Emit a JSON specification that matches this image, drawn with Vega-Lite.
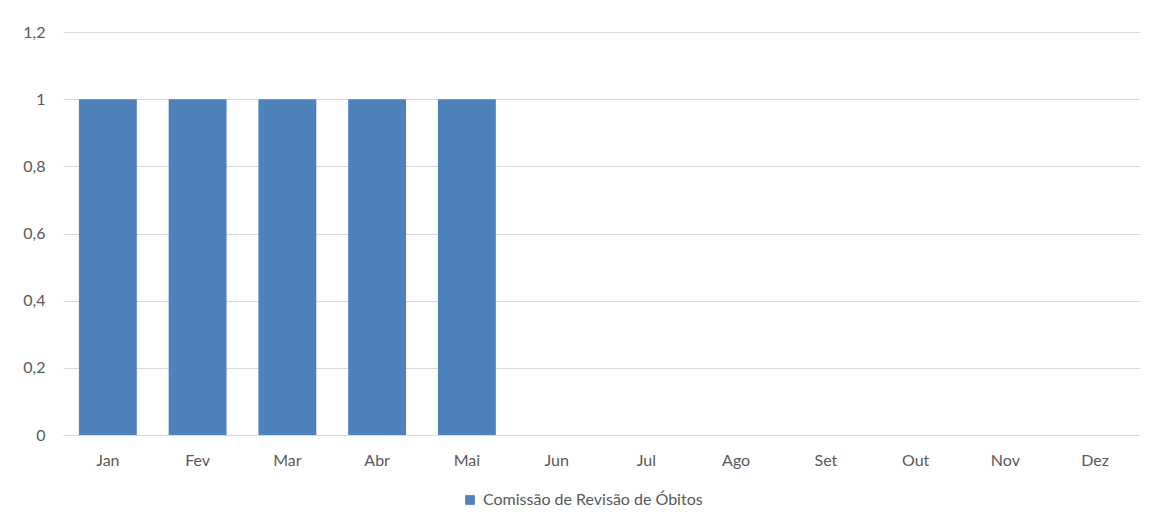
{
  "$schema": "https://vega.github.io/schema/vega-lite/v6.json",
  "width": 1077,
  "height": 403,
  "autosize": {"type": "none"},
  "padding": {"left": 63, "top": 32, "right": 21, "bottom": 91},
  "background": "white",
  "data": {
    "values": [
      {"mes": "Jan", "valor": 1, "serie": "Comissão de Revisão de Óbitos"},
      {"mes": "Fev", "valor": 1, "serie": "Comissão de Revisão de Óbitos"},
      {"mes": "Mar", "valor": 1, "serie": "Comissão de Revisão de Óbitos"},
      {"mes": "Abr", "valor": 1, "serie": "Comissão de Revisão de Óbitos"},
      {"mes": "Mai", "valor": 1, "serie": "Comissão de Revisão de Óbitos"},
      {"mes": "Jun", "valor": 0, "serie": "Comissão de Revisão de Óbitos"},
      {"mes": "Jul", "valor": 0, "serie": "Comissão de Revisão de Óbitos"},
      {"mes": "Ago", "valor": 0, "serie": "Comissão de Revisão de Óbitos"},
      {"mes": "Set", "valor": 0, "serie": "Comissão de Revisão de Óbitos"},
      {"mes": "Out", "valor": 0, "serie": "Comissão de Revisão de Óbitos"},
      {"mes": "Nov", "valor": 0, "serie": "Comissão de Revisão de Óbitos"},
      {"mes": "Dez", "valor": 0, "serie": "Comissão de Revisão de Óbitos"}
    ]
  },
  "mark": {"type": "bar"},
  "encoding": {
    "x": {
      "field": "mes",
      "type": "nominal",
      "sort": null,
      "scale": {"paddingInner": 0.355, "paddingOuter": 0.1775},
      "axis": {
        "title": null,
        "labelAngle": 0,
        "ticks": false,
        "domain": true,
        "domainColor": "#d9d9d9",
        "domainWidth": 1,
        "labelPadding": 17,
        "grid": false
      }
    },
    "y": {
      "field": "valor",
      "type": "quantitative",
      "scale": {"domain": [0, 1.2], "nice": false},
      "axis": {
        "title": null,
        "values": [0, 0.2, 0.4, 0.6, 0.8, 1, 1.2],
        "labelExpr": "replace(format(datum.value, '~g'), '.', ',')",
        "ticks": false,
        "domain": false,
        "grid": true,
        "gridColor": "#d9d9d9",
        "gridWidth": 1,
        "labelPadding": 18
      }
    },
    "color": {
      "field": "serie",
      "type": "nominal",
      "scale": {"range": ["#4f81bd"]},
      "legend": {
        "title": null,
        "orient": "none",
        "legendX": 399,
        "legendY": 460,
        "symbolType": "square",
        "symbolSize": 95,
        "symbolStrokeWidth": 0,
        "labelOffset": 5,
        "labelLimit": 0
      }
    }
  },
  "config": {
    "view": {"stroke": null},
    "font": "Lato",
    "axis": {"labelFont": "Lato", "labelFontSize": 16, "labelColor": "#595959"},
    "legend": {"labelFont": "Lato", "labelFontSize": 16, "labelColor": "#595959"}
  }
}
